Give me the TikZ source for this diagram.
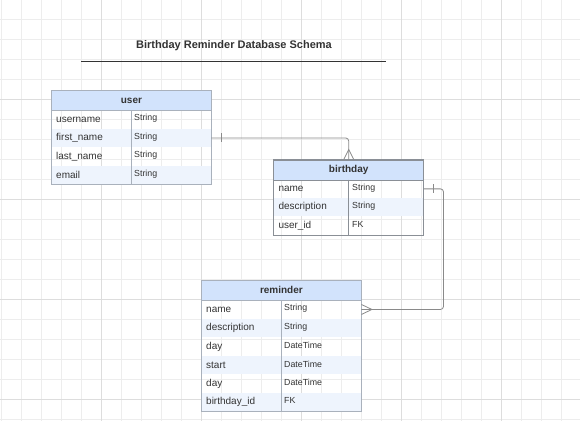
\documentclass[tikz,border=0pt]{standalone}
\usepackage{fontspec}
\setmainfont{Liberation Sans}
\definecolor{txt}{HTML}{333333}
\definecolor{hdr}{HTML}{D2E3FC}
\definecolor{alt}{HTML}{EEF4FD}
\definecolor{bord}{HTML}{A9B1BC}
\definecolor{bordd}{HTML}{8A8F96}
\definecolor{conn}{HTML}{8A8A8A}
\definecolor{gmin}{HTML}{EDEDED}
\definecolor{gmaj}{HTML}{DDDDDD}
\tikzset{
  hdrcell/.style={draw=bord, fill=hdr, line width=0.8pt, anchor=north west, inner sep=0pt, font=\bfseries\fontsize{10}{12}\selectfont, text=txt},
  rowcell/.style={anchor=north west, inner sep=0pt, minimum height=18.5pt},
  fname/.style={anchor=west, inner sep=0pt, font=\fontsize{10}{12}\selectfont, text=txt},
  ftype/.style={anchor=west, inner sep=0pt, font=\fontsize{8.8}{10}\selectfont, text=txt},
  conline/.style={draw=conn, line width=0.8pt},
}
\begin{document}
\begin{tikzpicture}[x=1pt,y=-1pt]
\useasboundingbox (0,0) rectangle (580,421);
\fill[white] (0,0) rectangle (580,421);
% grid
\foreach \i in {1,21,...,581} \draw[gmin, line width=0.6pt] (\i,0) -- (\i,421);
\foreach \j in {19,39,...,419} \draw[gmin, line width=0.6pt] (0,\j) -- (580,\j);
\foreach \i in {101,201,...,501} \draw[gmaj, line width=0.6pt] (\i,0) -- (\i,421);
\foreach \j in {99,199,...,399} \draw[gmaj, line width=0.6pt] (0,\j) -- (580,\j);
% title
\node[font=\bfseries\fontsize{11}{13}\selectfont, text=txt] (title) at (234,46) {Birthday Reminder Database Schema};
\draw[txt, line width=0.8pt] (81,61) -- (385.7,61);

% ---------- user ----------
\node[hdrcell, minimum width=160pt, minimum height=20pt] (uh) at (51,90) {user};
\node[rowcell, minimum width=160pt] (u1) at (51,110) {};
\node[rowcell, minimum width=160pt, fill=alt] (u2) at (51,128.5) {};
\node[rowcell, minimum width=160pt] (u3) at (51,147) {};
\node[rowcell, minimum width=160pt, fill=alt] (u4) at (51,165.5) {};
\draw[bord, line width=0.8pt] (uh.north west) rectangle (u4.south east);
\draw[bord, line width=0.8pt] (131,110) -- (131,184);
\node[fname] (u1n) at ([xshift=5pt]u1.west) {username};
\node[fname] (u2n) at ([xshift=5pt]u2.west) {first\_name};
\node[fname] (u3n) at ([xshift=5pt]u3.west) {last\_name};
\node[fname] (u4n) at ([xshift=5pt]u4.west) {email};
\node[ftype] (u1t) at ([xshift=83pt,yshift=1pt]u1.west) {String};
\node[ftype] (u2t) at ([xshift=83pt,yshift=1pt]u2.west) {String};
\node[ftype] (u3t) at ([xshift=83pt,yshift=1pt]u3.west) {String};
\node[ftype] (u4t) at ([xshift=83pt,yshift=1pt]u4.west) {String};

% ---------- birthday ----------
\node[hdrcell, draw=bordd, minimum width=150pt, minimum height=20pt] (bh) at (273.3,159.5) {birthday};
\node[rowcell, minimum width=150pt, minimum height=18.33pt] (b1) at (273.3,179.5) {};
\node[rowcell, minimum width=150pt, minimum height=18.33pt, fill=alt] (b2) at (273.3,197.83) {};
\node[rowcell, minimum width=150pt, minimum height=18.33pt] (b3) at (273.3,216.17) {};
\draw[bordd, line width=0.8pt] (bh.north west) rectangle (b3.south east);
\draw[bordd, line width=0.8pt] (348.7,179.5) -- (348.7,235);
\node[fname] (b1n) at ([xshift=5pt]b1.west) {name};
\node[fname] (b2n) at ([xshift=5pt]b2.west) {description};
\node[fname] (b3n) at ([xshift=5pt]b3.west) {user\_id};
\node[ftype] (b1t) at ([xshift=78.7pt,yshift=1pt]b1.west) {String};
\node[ftype] (b2t) at ([xshift=78.7pt,yshift=1pt]b2.west) {String};
\node[ftype] (b3t) at ([xshift=78.7pt,yshift=1pt]b3.west) {FK};

% ---------- reminder ----------
\node[hdrcell, minimum width=160pt, minimum height=20pt] (rh) at (201,280) {reminder};
\node[rowcell, minimum width=160pt] (r1) at (201,300) {};
\node[rowcell, minimum width=160pt, fill=alt] (r2) at (201,318.5) {};
\node[rowcell, minimum width=160pt] (r3) at (201,337) {};
\node[rowcell, minimum width=160pt, fill=alt] (r4) at (201,355.5) {};
\node[rowcell, minimum width=160pt] (r5) at (201,374) {};
\node[rowcell, minimum width=160pt, fill=alt] (r6) at (201,392.5) {};
\draw[bord, line width=0.8pt] (rh.north west) rectangle (r6.south east);
\draw[bord, line width=0.8pt] (281,300) -- (281,411);
\node[fname] (r1n) at ([xshift=5pt]r1.west) {name};
\node[fname] (r2n) at ([xshift=5pt]r2.west) {description};
\node[fname] (r3n) at ([xshift=5pt]r3.west) {day};
\node[fname] (r4n) at ([xshift=5pt]r4.west) {start};
\node[fname] (r5n) at ([xshift=5pt]r5.west) {day};
\node[fname] (r6n) at ([xshift=5pt]r6.west) {birthday\_id};
\node[ftype] (r1t) at ([xshift=83pt,yshift=1pt]r1.west) {String};
\node[ftype] (r2t) at ([xshift=83pt,yshift=1pt]r2.west) {String};
\node[ftype] (r3t) at ([xshift=83pt,yshift=1pt]r3.west) {DateTime};
\node[ftype] (r4t) at ([xshift=83pt,yshift=1pt]r4.west) {DateTime};
\node[ftype] (r5t) at ([xshift=83pt,yshift=1pt]r5.west) {DateTime};
\node[ftype] (r6t) at ([xshift=83pt,yshift=1pt]r6.west) {FK};

% ---------- connectors ----------
% user (one) -> birthday (many)
\draw[conline, rounded corners=3pt] (u2.east) -| (bh.north);
\draw[conline] ([xshift=10pt,yshift=4.5pt]u2.east) -- ([xshift=10pt,yshift=-4.5pt]u2.east);
\draw[conline] ([xshift=-5pt]bh.north) -- ([yshift=10pt]bh.north) -- ([xshift=5pt]bh.north);

% birthday (one) -> reminder (many)
\coordinate (c2) at (443.5,250);
\draw[conline, rounded corners=3pt] (b1.east) -- (b1.east -| c2) -- (r1.east -| c2) -- (r1.east);
\draw[conline] ([xshift=10pt,yshift=4.5pt]b1.east) -- ([xshift=10pt,yshift=-4.5pt]b1.east);
\draw[conline] ([yshift=5pt]r1.east) -- ([xshift=10.5pt]r1.east) -- ([yshift=-5pt]r1.east);
\end{tikzpicture}
\end{document}
